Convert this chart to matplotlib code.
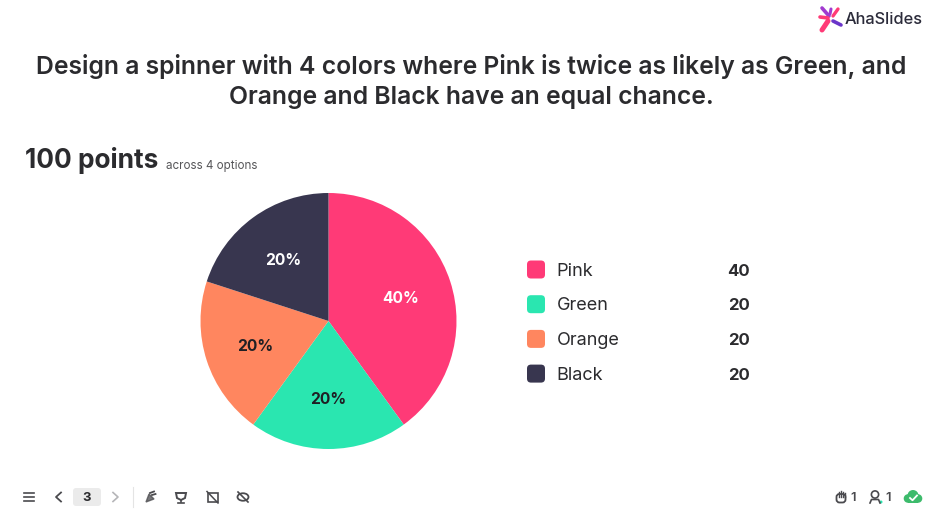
import math
import matplotlib
matplotlib.use("Agg")
import matplotlib.pyplot as plt
from matplotlib.patches import FancyBboxPatch, Circle, Polygon, Ellipse, Rectangle

plt.rcParams['font.family'] = ['Inter', 'DejaVu Sans']

W, H = 942, 526
DARK = '#2b2b2e'

options = ['Pink', 'Green', 'Orange', 'Black']
points = [40, 20, 20, 20]
colors = ['#ff3a77', '#2ae6b0', '#ff865f', '#38364f']
label_colors = ['white', '#1f1f24', '#1f1f24', 'white']
title_lines = ['Design a spinner with 4 colors where Pink is twice as likely as Green, and',
               'Orange and Black have an equal chance.']
total_label = '100 points'
sub_label = 'across 4 options'
page = '3'

fig = plt.figure(figsize=(W / 100, H / 100), dpi=100, facecolor='white')

# overlay in pixel coords, top left origin
ui = fig.add_axes([0, 0, 1, 1])
ui.set_xlim(0, W)
ui.set_ylim(H, 0)
ui.axis('off')

# pie
R = 128
cx, cy = 328.5, 321
pie_ax = fig.add_axes([(cx - R) / W, 1 - (cy + R) / H, 2 * R / W, 2 * R / H])
wedges, _ = pie_ax.pie(points, colors=colors, startangle=90, counterclock=False, radius=1,
                       wedgeprops={'linewidth': 0})
pie_ax.set_xlim(-1, 1)
pie_ax.set_ylim(-1, 1)
pie_ax.set_aspect('equal')

start = 90
for val, col in zip(points, label_colors):
    mid = start - val / sum(points) * 360 / 2
    start -= val / sum(points) * 360
    pie_ax.text(0.6 * math.cos(math.radians(mid)) - 0.005, 0.6 * math.sin(math.radians(mid)) - 0.012,
                '%d%%' % (100 * val / sum(points)), color=col, fontsize=11.2, fontweight='bold',
                ha='center', va='center')

# title
ui.text(471, 66.5, title_lines[0], fontsize=17.8, fontweight='semibold', color=DARK, ha='center', va='center')
ui.text(471, 97.5, title_lines[1], fontsize=17.8, fontweight='semibold', color=DARK, ha='center', va='center')

ui.text(25, 161, total_label, fontsize=18.9, fontweight='bold', color=DARK, ha='left', va='center')
ui.text(166, 165.5, sub_label, fontsize=8.4, color='#555558', ha='left', va='center')

# legend
for i, (name, val, c) in enumerate(zip(options, points, colors)):
    y = 269.5 + i * 34.7
    ui.add_patch(FancyBboxPatch((527, y - 9), 18, 18, boxstyle='round,pad=0,rounding_size=4',
                                fc=c, ec='none'))
    ui.text(556.5, y + 1.5, name, fontsize=13, color=DARK, ha='left', va='center')
    ui.text(749.5, y + 1.5, str(val), fontsize=12, fontweight='bold', color=DARK, ha='right', va='center')

# logo
ui.text(845, 19.5, 'AhaSlides', fontsize=11.8, fontweight='medium', color='#2b2b3a', ha='left', va='center')
logo_arms = [((822, 8), (829, 16), '#a13ad0', 2.6), ((831, 9), (830, 14), '#a13ad0', 2.2),
             ((838, 9), (833, 16), '#ff3a77', 2.4), ((820, 17), (828, 18), '#ff3a77', 2.6),
             ((822, 30), (828, 21), '#ff3a77', 3.6), ((833, 21), (841, 25), '#6a35c9', 2.6)]
for a, b, c, lw in logo_arms:
    ui.plot([a[0], b[0]], [a[1], b[1]], color=c, lw=lw, solid_capstyle='round')

# bottom toolbar
GREY = '#4a4a4e'
for y in (493, 497, 501):
    ui.plot([23.5, 34], [y, y], color=GREY, lw=1.2)
ui.plot([61, 56, 61], [492.5, 497, 501.5], color=GREY, lw=1.3)
ui.add_patch(FancyBboxPatch((73, 488), 28, 18, boxstyle='round,pad=0,rounding_size=3', fc='#ebebeb', ec='none'))
ui.text(87, 498, page, fontsize=9.5, fontweight='bold', color=DARK, ha='center', va='center')
ui.plot([113, 118, 113], [492.5, 497, 501.5], color='#b5b5b8', lw=1.2)
ui.plot([132.5, 132.5], [487, 507], color='#e4e4e4', lw=0.8)

# party popper
ui.add_patch(Polygon([(146, 502), (149, 494), (154, 499)], closed=True, fc=GREY, ec=GREY, lw=1.0, alpha=0.75))
ui.plot([150, 154], [493, 491.5], color=GREY, lw=1.3)
ui.plot([152, 155.5], [495, 494], color=GREY, lw=1.3)
# trophy
ui.add_patch(Polygon([(176, 493), (186, 493), (185, 498), (181, 500), (177, 498)], closed=True, fc='none', ec=GREY, lw=1.4))
ui.plot([181, 181], [500, 502], color=GREY, lw=1.2)
ui.plot([178, 184], [502.5, 502.5], color=GREY, lw=1.2)
# image off
ui.add_patch(Rectangle((207.5, 493), 10, 9, fc='none', ec=GREY, lw=1.2))
ui.plot([207, 218], [491.5, 503], color=GREY, lw=1.1)
# eye off
ui.add_patch(Ellipse((243, 497), 11, 7.5, fc='none', ec=GREY, lw=1.3))
ui.plot([238, 248], [492, 502], color=GREY, lw=1.2)

# status icons
ui.add_patch(FancyBboxPatch((836.5, 494), 9, 8.5, boxstyle='round,pad=0,rounding_size=3', fc='none', ec=GREY, lw=1.3))
for hx, top in ((838.5, 492), (840.5, 491), (842.5, 491.5), (844.5, 493)):
    ui.plot([hx, hx], [top, 497], color=GREY, lw=1)
ui.text(853.5, 498, '1', fontsize=9.5, fontweight='semibold', color=GREY, ha='center', va='center')
ui.add_patch(Circle((875, 494.5), 3.6, fc='none', ec=GREY, lw=1.2))
ui.plot([870, 871.5, 878.5, 880], [503, 499.5, 499.5, 503], color=GREY, lw=1.2)
ui.add_patch(Circle((881, 502), 1.5, fc='#2ae6b0', ec='none'))
ui.text(888.5, 498, '1', fontsize=9.5, fontweight='semibold', color=GREY, ha='center', va='center')
GREEN = '#3dbb6c'
ui.add_patch(Circle((913, 495.5), 5.5, fc=GREEN, ec='none'))
ui.add_patch(Circle((908, 498.5), 4.3, fc=GREEN, ec='none'))
ui.add_patch(Circle((918, 498.5), 4.3, fc=GREEN, ec='none'))
ui.add_patch(Rectangle((908, 497), 10, 5.8, fc=GREEN, ec='none'))
ui.plot([910, 912.5, 917], [498, 500.3, 495.5], color='white', lw=1.3)

fig.savefig('out.png', dpi=100, facecolor='white')
